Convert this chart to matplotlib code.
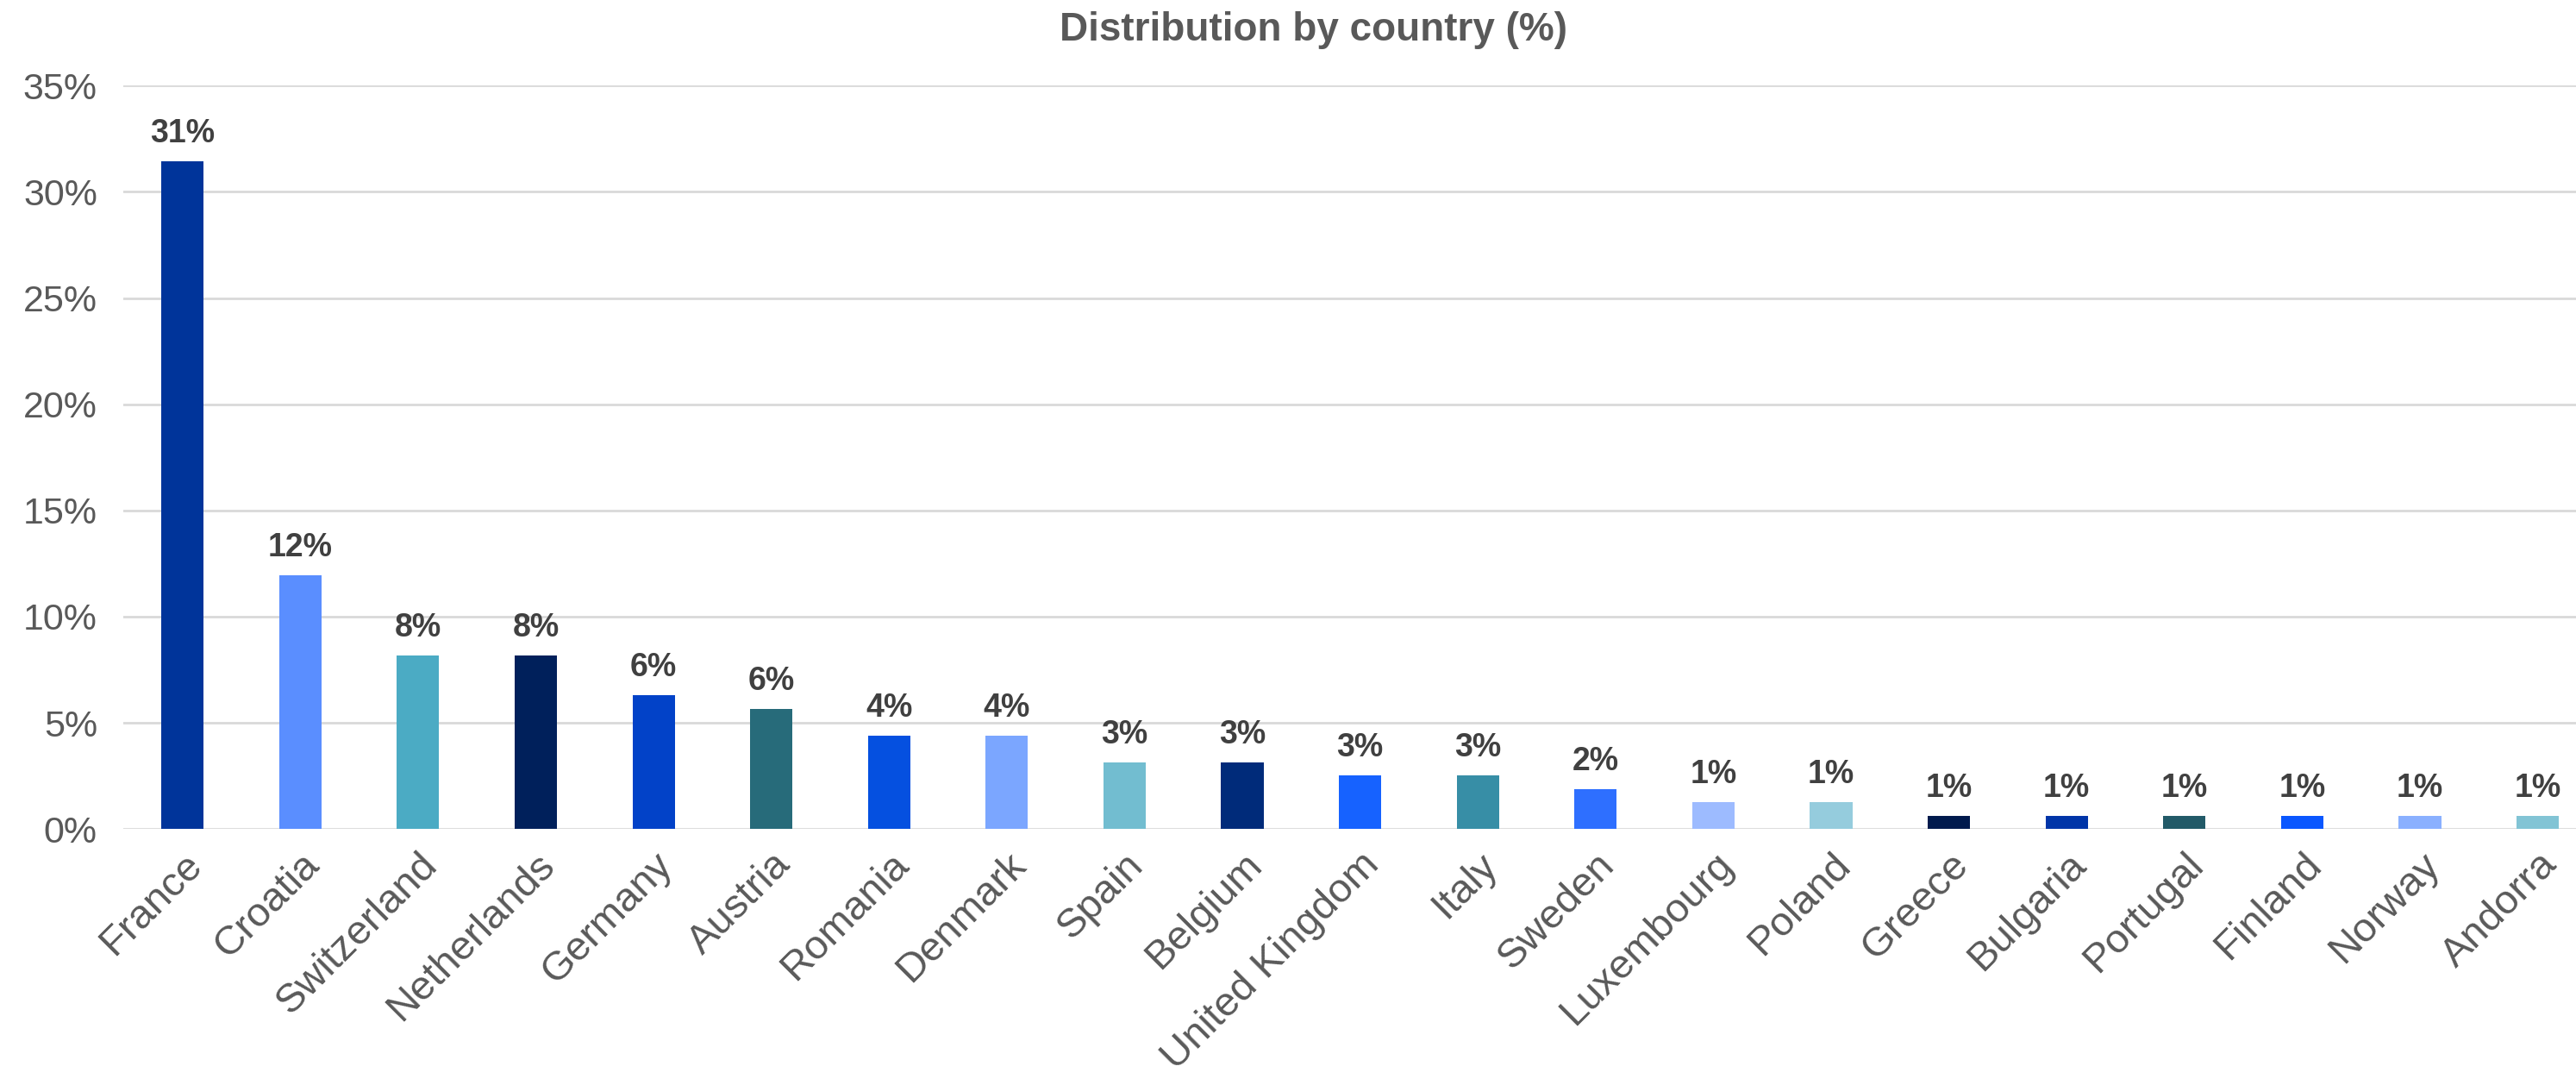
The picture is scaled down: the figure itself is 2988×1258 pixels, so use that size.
import matplotlib
matplotlib.use("Agg")
import matplotlib.pyplot as plt
from matplotlib.ticker import FuncFormatter

plt.rcParams["font.family"] = ["Liberation Sans", "DejaVu Sans"]

countries = [
    "France", "Croatia", "Switzerland", "Netherlands", "Germany", "Austria",
    "Romania", "Denmark", "Spain", "Belgium", "United Kingdom", "Italy",
    "Sweden", "Luxembourg", "Poland", "Greece", "Bulgaria", "Portugal",
    "Finland", "Norway", "Andorra",
]
shares = [
    31.45, 11.95, 8.18, 8.18, 6.29, 5.66,
    4.40, 4.40, 3.14, 3.14, 2.52, 2.52,
    1.89, 1.26, 1.26, 0.63, 0.63, 0.63,
    0.63, 0.63, 0.63,
]
bar_colors = [
    "#00349A", "#5A8EFF", "#4BABC4", "#00205B", "#0242C8", "#276B7A",
    "#0550E0", "#7BA6FF", "#72BDD0", "#002B7A", "#1662FF", "#378EA6",
    "#2E6FFF", "#9DBBFF", "#95CCDD", "#001A4D", "#0035A8", "#225A68",
    "#0A57FF", "#8AB0FF", "#82C4D5",
]

fig = plt.figure(figsize=(29.88, 12.58), dpi=100)
ax = fig.add_axes([0.048, 0.236, 0.960, 0.685])

x = range(len(countries))
bars = ax.bar(x, shares, width=0.36, color=bar_colors, zorder=3)

# value labels above each bar
for bar, value in zip(bars, shares):
    ax.annotate(
        f"{value:.0f}%",
        (bar.get_x() + bar.get_width() / 2, bar.get_height()),
        xytext=(0, 10),
        textcoords="offset points",
        ha="center",
        va="bottom",
        fontsize=27,
        fontweight="bold",
        color="#404040",
    )

ax.set_xlim(-0.5, len(countries) - 0.5)
ax.set_ylim(0, 35)
ax.set_yticks(range(0, 36, 5))
ax.yaxis.set_major_formatter(FuncFormatter(lambda v, _: f"{v:.0f}%"))
ax.grid(axis="y", color="#D9D9D9", linewidth=2, zorder=0)
for side in ["top", "right", "left", "bottom"]:
    ax.spines[side].set_visible(False)
ax.tick_params(axis="both", length=0)
ax.tick_params(axis="y", labelsize=31, labelcolor="#595959", pad=22)

ax.set_xticks(list(x))
ax.set_xticklabels(countries, rotation=45, ha="right", rotation_mode="anchor",
                   fontsize=34, color="#595959")
ax.tick_params(axis="x", pad=14)

fig.text(0.51, 0.972, "Distribution by country (%)", ha="center", va="center",
         fontsize=33, fontweight="bold", color="#595959")

fig.savefig("out.png", dpi=100)
